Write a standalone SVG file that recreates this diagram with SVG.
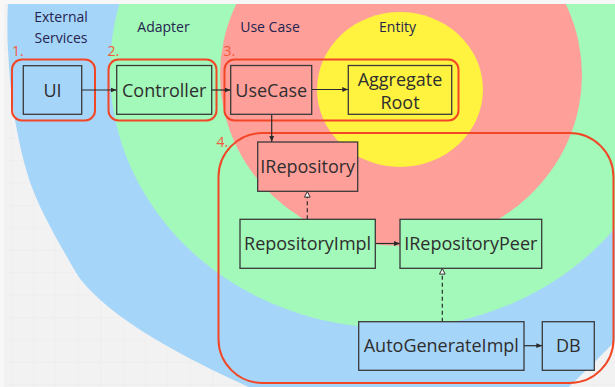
<svg xmlns="http://www.w3.org/2000/svg" width="615" height="387" viewBox="0 0 615 387">
<style>
.node rect{stroke:#3a3a3a;stroke-width:1.3}
.node text{font-family:"Open Sans","Noto Sans",sans-serif;font-size:18px;fill:#2e2e2e;text-anchor:middle}
.layer{font-family:"Open Sans","Noto Sans",sans-serif;font-size:14px;fill:#24244f;text-anchor:middle}
.num{font-family:"Open Sans","Noto Sans",sans-serif;font-size:14px;fill:#f35a3a}
.grp{fill:none;stroke:#f24726;stroke-width:2}
.conn line{stroke:#2b2b2b;stroke-width:1.2}
.dash{stroke-dasharray:4 3}
</style>
<defs>
<pattern id="grid" width="22.4" height="22.4" patternUnits="userSpaceOnUse" x="10.6" y="3.4">
<path d="M0 0H22.4M0 0V22.4" fill="none" stroke="#e9e9e9" stroke-width="0.8"/>
</pattern>
<marker id="arr" viewBox="0 0 10 10" refX="10" refY="5" markerWidth="6" markerHeight="6" markerUnits="userSpaceOnUse" orient="auto">
<path d="M0 1L10 5L0 9Z" fill="#2b2b2b"/>
</marker>
<marker id="tri" viewBox="0 0 10 10" refX="9" refY="5" markerWidth="7" markerHeight="7" markerUnits="userSpaceOnUse" orient="auto">
<path d="M1 1L9 5L1 9Z" fill="#ffffff" stroke="#2b2b2b" stroke-width="1.4"/>
</marker>
</defs>
<rect width="615" height="387" fill="#f2f2f2"/>
<rect width="615" height="387" fill="url(#grid)"/>
<g id="layers">
<path d="M8,-5 C7.7,13.3 6.8,29.2 8,50 C9.2,70.8 10.8,96.7 15,120 C19.2,143.3 24.3,167.2 33,190 C41.7,212.8 57.5,240.3 67,257 C76.5,273.7 79.5,279 90,290 C100.5,301 113.8,311.8 130,323 C146.2,334.2 166.2,345.8 187,357 C207.8,368.2 232.8,379.5 255,390 L560,395 Q592,366 620,336 L620,-5 Z" fill="#a6d5fa"/>
<ellipse cx="392" cy="70" rx="282" ry="258" fill="#a2f9b9"/>
<ellipse cx="401" cy="75" rx="181" ry="171" fill="#ff9f9a"/>
<ellipse cx="400" cy="89.5" rx="83" ry="77.5" fill="#fff340"/>
</g>
<rect x="0" y="0" width="615" height="4" fill="#f7f7f7"/>
<rect x="0" y="0" width="4" height="387" fill="#f7f7f7"/>
<text class="layer" x="61" y="22">External</text>
<text class="layer" x="61" y="43">Services</text>
<text class="layer" x="163.5" y="32">Adapter</text>
<text class="layer" x="270" y="32">Use Case</text>
<text class="layer" x="397.5" y="32">Entity</text>
<g id="groups">
<rect class="grp" x="12" y="59.5" width="83" height="61" rx="10"/>
<rect class="grp" x="108.5" y="59.5" width="108" height="61" rx="10"/>
<rect class="grp" x="224.5" y="59.5" width="234" height="61" rx="10"/>
<rect class="grp" x="218.5" y="133" width="395" height="250" rx="44"/>
<text class="num" x="12" y="56">1.</text>
<text class="num" x="107.5" y="56">2.</text>
<text class="num" x="223.5" y="56">3.</text>
<text class="num" x="216.5" y="147">4.</text>
</g>
<g id="connectors" class="conn">
<line x1="81.7" y1="90" x2="116.7" y2="90" marker-end="url(#arr)"/>
<line x1="211.7" y1="90" x2="230.7" y2="90" marker-end="url(#arr)"/>
<line x1="311.7" y1="89.5" x2="348.3" y2="89.5" marker-end="url(#arr)"/>
<line x1="271.7" y1="114.3" x2="271.7" y2="142" marker-end="url(#arr)"/>
<line class="dash" x1="307.3" y1="219.3" x2="307.3" y2="191.5" marker-end="url(#tri)"/>
<line x1="375.3" y1="243.5" x2="400" y2="243.5" marker-end="url(#arr)"/>
<line class="dash" x1="442.3" y1="321.7" x2="442.3" y2="268.5" marker-end="url(#tri)"/>
<line x1="524" y1="345.7" x2="542.3" y2="345.7" marker-end="url(#arr)"/>
</g>
<g id="ui" class="node"><rect x="23.3" y="65.7" width="58.4" height="48.6" fill="#a6d5fa"/><text x="52.5" y="96.5">UI</text></g>
<g id="controller" class="node"><rect x="116.7" y="65.5" width="95" height="48.8" fill="#a2f9b9"/><text x="164.2" y="96.5">Controller</text></g>
<g id="usecase" class="node"><rect x="230.7" y="65.5" width="81" height="48.8" fill="#ff9f9a"/><text x="271.2" y="96.5">UseCase</text></g>
<g id="aggregate-root" class="node"><rect x="348.3" y="65.5" width="103.4" height="48.8" fill="#fff340"/><text x="400" y="85.5">Aggregate</text><text x="400" y="109">Root</text></g>
<g id="irepository" class="node"><rect x="257.7" y="142" width="100" height="49.3" fill="#ff9f9a"/><text x="307.7" y="173">IRepository</text></g>
<g id="repositoryimpl" class="node"><rect x="240" y="219.3" width="135.3" height="49" fill="#a2f9b9"/><text x="307.6" y="250">RepositoryImpl</text></g>
<g id="irepositorypeer" class="node"><rect x="400" y="219.3" width="141.7" height="49" fill="#a2f9b9"/><text x="470.8" y="250">IRepositoryPeer</text></g>
<g id="autogenerateimpl" class="node"><rect x="358.7" y="321.7" width="165.3" height="48.6" fill="#a6d5fa"/><text x="441.3" y="352.3">AutoGenerateImpl</text></g>
<g id="db" class="node"><rect x="542.3" y="321.7" width="52" height="48.6" fill="#a6d5fa"/><text x="568.3" y="352.3">DB</text></g>
</svg>
